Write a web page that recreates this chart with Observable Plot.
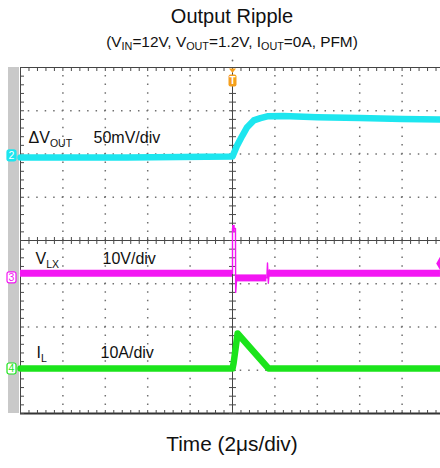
<!DOCTYPE html>
<html><head><meta charset="utf-8">
<script src="https://cdn.jsdelivr.net/npm/d3@7"></script>
<script src="https://cdn.jsdelivr.net/npm/@observablehq/plot@0.6"></script>
<style>
body{margin:0;background:#fff;}
#wrap{position:relative;width:440px;height:468px;font-family:"Liberation Sans",Arial,sans-serif;color:#111;overflow:hidden;}
.t{position:absolute;left:0;width:464px;text-align:center;white-space:nowrap;line-height:1;}
#title{top:6px;font-size:20px;}
#sub{top:34px;font-size:15.4px;}
#sub sub{font-size:10.8px;vertical-align:-3px;line-height:0;}
#xlab{top:434px;font-size:20.8px;}
#strip{position:absolute;left:8px;top:67px;width:11px;height:346px;background:#c9c9c9;}
#chart{position:absolute;left:0;top:55px;}
</style></head>
<body>
<div id="wrap">
<div id="title" class="t">Output Ripple</div>
<div id="sub" class="t">(V<sub>IN</sub>=12V, V<sub>OUT</sub>=1.2V, I<sub>OUT</sub>=0A, PFM)</div>
<div id="strip"></div>
<div id="chart"></div>
<div id="xlab" class="t">Time (2μs/div)</div>
</div>
<script>
// ---- data (time in μs, 2 μs/div; trigger at t = 0) ----
const timeVout = [-10, -5, 0, 0.22, 0.46, 0.69, 1.0, 1.32, 1.64, 2.4, 4.0, 6.0, 8.0, 9.81];
const vout     = [0, 0, 1, 14, 25, 35, 42.8, 45.5, 47.5, 48, 46.5, 45.5, 44.5, 43.8]; // mV

// V_LX: thin trace through every point, thick noise band on the flat levels
const timeVlx  = [-10, 0, 0, 0.14, 0.15, 0.2, 1.62, 1.65, 1.69, 1.74, 1.8, 1.88, 9.81];
const vlx      = [0, 0, 10.4, 10.4, -4.4, -1.05, -1.05, 2.4, -2.3, 0.8, -0.4, 0, 0]; // V
const vlxLevelStart = [-10, 0, 0.16, 1.72];
const vlxLevelEnd   = [0, 0.13, 1.62, 9.81];
const vlxLevel      = [0, 10.4, -1.05, 0];                                           // V

const timeIl   = [-10, 0, 0.05, 0.24, 1.70, 9.81];
const il       = [0, 0, 1.2, 8.1, 0, 0];                                            // A

const voutScale = 50, vlxScale = 10, ilScale = 10;      // units per division
const voutPos = 1.92, vlxPos = -0.76, ilPos = -2.96;   // channel offsets (div)
const vlxTrigLevel = 2.3;                              // V
const xMax = 9.811;                                    // visible right edge (μs)

const cyan = "#1de6ef", magenta = "#f316f3", green = "#1be41b", orange = "#f5a01e";

const toRows = (ts, vs, pos, sc) => ts.map((t, i) => ({t, y: pos + vs[i] / sc}));
const rowsVout = toRows(timeVout, vout, voutPos, voutScale);
const rowsVlx = toRows(timeVlx, vlx, vlxPos, vlxScale);
const rowsIl = toRows(timeIl, il, ilPos, ilScale);
const rowsVlxLevels = vlxLevel.map((v, i) => ({t0: vlxLevelStart[i], t1: vlxLevelEnd[i], y: vlxPos + v / vlxScale}));

// ---- scope graticule ----
const W = 440, H = 365, mT = 12, mB = 7, mL = 20, mR = 0;
const kx = (W - mL - mR) / (xMax + 10);   // px per μs
const ky = (H - mT - mB) / 8;             // px per division
const majorX = [-8, -6, -4, -2, 2, 4, 6, 8];
const majorY = [-3, -2, -1, 1, 2, 3];
const minorX = d3.range(-10, xMax, 0.4);
const minorY = d3.range(-4, 4.001, 0.2);
const tx = 3.5 / kx, ty = 3.5 / ky;      // tick lengths in data units

const sym = f => ({draw: f});
const roundBox = (w, h, r) => sym(c => {
  const x0 = -w / 2, y0 = -h / 2, x1 = w / 2, y1 = h / 2;
  c.moveTo(x0 + r, y0); c.lineTo(x1 - r, y0); c.arcTo(x1, y0, x1, y0 + r, r);
  c.lineTo(x1, y1 - r); c.arcTo(x1, y1, x1 - r, y1, r);
  c.lineTo(x0 + r, y1); c.arcTo(x0, y1, x0, y1 - r, r);
  c.lineTo(x0, y0 + r); c.arcTo(x0, y0, x0 + r, y0, r); c.closePath();
});
const triDown = sym(c => { c.moveTo(-3.5, 0); c.lineTo(3.5, 0); c.lineTo(0, 4.5); c.closePath(); });

const font = "Liberation Sans";
const tickColor = "#4a4a4a", gridColor = "#707070";

const channels = [
  {id: "2", pos: voutPos, color: cyan, filled: true, dy: -2},
  {id: "3", pos: vlxPos, color: magenta, filled: false, dy: 4},
  {id: "4", pos: ilPos, color: green, filled: false, dy: 0}
];

const labels = [
  {text: "ΔV", pos: voutPos, dx: 8, dy: -14, size: 16},
  {text: "OUT", pos: voutPos, dx: 29.4, dy: -10, size: 10.5},
  {text: "50mV/div", pos: voutPos, dx: 73, dy: -14, size: 16},
  {text: "V", pos: vlxPos, dx: 15, dy: -9, size: 16},
  {text: "LX", pos: vlxPos, dx: 25.7, dy: -5, size: 10.5},
  {text: "10V/div", pos: vlxPos, dx: 82, dy: -9, size: 16},
  {text: "I", pos: ilPos, dx: 16, dy: -11, size: 16},
  {text: "L", pos: ilPos, dx: 20.6, dy: -7, size: 10.5},
  {text: "10A/div", pos: ilPos, dx: 80, dy: -11, size: 16}
];

const tickLink = (data, o) => Plot.link(data, {stroke: tickColor, strokeWidth: 1, ...o});

const marks = [
  // dotted grid
  Plot.ruleX(majorX, {stroke: gridColor, strokeWidth: 1.5, strokeDasharray: `1.5,${(ky / 5 - 1.5).toFixed(3)}`, strokeDashoffset: 0.75}),
  Plot.ruleY(majorY, {stroke: gridColor, strokeWidth: 1.5, strokeDasharray: `1.5,${(kx * 0.4 - 1.5).toFixed(3)}`, strokeDashoffset: 0.75}),
  // centre lines and border
  Plot.ruleX([0], {stroke: "#444"}),
  Plot.ruleY([0], {stroke: "#444"}),
  Plot.ruleX([-10], {stroke: "#444"}),
  Plot.ruleY([4], {stroke: "#444"}),
  Plot.ruleY([-4], {stroke: "#333", strokeWidth: 2}),
  // minor ticks
  tickLink(minorX, {x1: d => d, x2: d => d, y1: 4, y2: 4 - ty}),
  tickLink(minorX, {x1: d => d, x2: d => d, y1: -4, y2: -4 + ty}),
  tickLink(minorY, {x1: -10, x2: -10 + tx, y1: d => d, y2: d => d}),
  tickLink(minorY, {x1: -tx, x2: tx, y1: d => d, y2: d => d}),
  tickLink(minorX, {x1: d => d, x2: d => d, y1: -ty, y2: ty}),
  // traces
  Plot.line(rowsVout, {x: "t", y: "y", stroke: cyan, strokeWidth: 6.5, strokeLinejoin: "round"}),
  Plot.line(rowsVlx, {x: "t", y: "y", stroke: magenta, strokeWidth: 1.4}),
  Plot.ruleY(rowsVlxLevels, {x1: "t0", x2: "t1", y: "y", stroke: magenta, strokeWidth: 7}),
  Plot.line(rowsIl, {x: "t", y: "y", stroke: green, strokeWidth: 6.5, strokeLinejoin: "round"}),
  // trigger level marker at right edge
  Plot.dot([vlxTrigLevel], {x: xMax, y: d => vlxPos + d / vlxScale, symbol: "diamond", r: 4.5, fill: magenta, stroke: "none"}),
  // trigger position marker
  Plot.dot([0], {x: d => d, y: 4, dy: -7, r: 0.9, fill: "#666", stroke: "none"}),
  Plot.dot([0], {x: d => d, y: 4, dy: 1, symbol: triDown, fill: orange, stroke: "none"}),
  Plot.dot([0], {x: d => d, y: 4, dy: 13, symbol: roundBox(8, 12, 2), fill: orange, stroke: "none"}),
  Plot.text(["T"], {x: 0, y: 4, dy: 13, text: d => d, fill: "white", fontSize: 10, fontWeight: "bold", fontFamily: font, lineAnchor: "middle"}),
  // labels
  ...labels.map(l => Plot.text([l.text], {x: -10, y: l.pos, dx: l.dx, dy: l.dy, text: d => d, fontSize: l.size, fontFamily: font, textAnchor: "start", lineAnchor: "bottom", fill: "#111"}))
];

channels.forEach(c => {
  marks.push(Plot.dot([c.id], {x: -10, y: c.pos, dx: -9, dy: c.dy, symbol: roundBox(9, 11, 2),
    fill: c.filled ? c.color : "white", stroke: c.color, strokeWidth: 1.2}));
  marks.push(Plot.text([c.id], {x: -10, y: c.pos, dx: -9, dy: c.dy, text: d => d, fontSize: 10.5, fontFamily: font,
    fill: c.filled ? "white" : c.color, lineAnchor: "middle"}));
});

const chart = Plot.plot({
  width: W, height: H,
  marginTop: mT, marginBottom: mB, marginLeft: mL, marginRight: mR,
  x: {domain: [-10, xMax], axis: null},
  y: {domain: [-4, 4], axis: null},
  style: {background: "transparent", overflow: "visible"},
  marks
});
document.getElementById("chart").appendChild(chart);
</script>
</body></html>
